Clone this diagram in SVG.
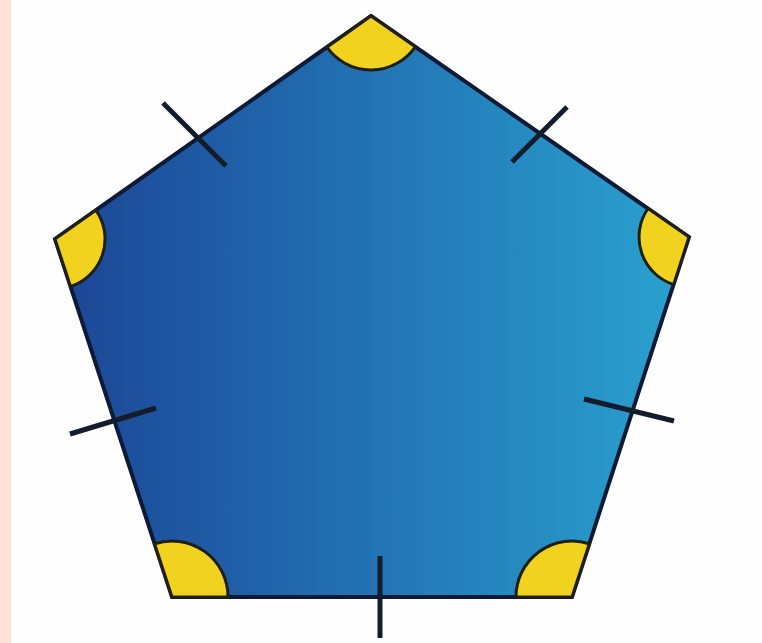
<svg xmlns="http://www.w3.org/2000/svg" width="762" height="643" viewBox="0 0 762 643">
  <defs>
    <linearGradient id="blue" x1="55" y1="0" x2="690" y2="0" gradientUnits="userSpaceOnUse">
      <stop offset="0" stop-color="#1c4595"/>
      <stop offset="0.3" stop-color="#2060a8"/>
      <stop offset="0.6" stop-color="#247db9"/>
      <stop offset="1" stop-color="#2aa3d0"/>
    </linearGradient>
    <style>
      .edge { fill: url(#blue); stroke: #0e1a33; stroke-width: 4; stroke-linejoin: miter; }
      .angle { fill: #f1d21e; stroke: #1f1f12; stroke-width: 3; stroke-linejoin: round; }
      .tick { stroke: #141c2c; stroke-width: 5; stroke-linecap: butt; fill: none; }
    </style>
  </defs>
  <rect x="0" y="0" width="762" height="643" fill="#fefefe"/>
  <rect x="0" y="0" width="11" height="643" fill="#fde3d8"/>
  <g id="pentagon">
    <polygon class="edge" points="371,16 689,237 572,597 172,597 55,239"/>
  </g>
  <g id="angles">
    <path class="angle" d="M371,16 L326.9,47.2 A54,54 0 0 0 415.3,46.8 Z"/>
    <path class="angle" d="M689,237 L673.6,284.6 A50,50 0 0 1 648.0,208.5 Z"/>
    <path class="angle" d="M572,597 L516,597 A56,56 0 0 1 589.3,543.7 Z"/>
    <path class="angle" d="M172,597 L154.6,543.7 A56,56 0 0 1 228,597 Z"/>
    <path class="angle" d="M55,239 L95.85,210.15 A50,50 0 0 1 70.55,286.55 Z"/>
  </g>
  <g id="connectors">
    <line class="tick" x1="163" y1="103" x2="226" y2="166"/>
    <line class="tick" x1="512" y1="162" x2="567" y2="107"/>
    <line class="tick" x1="70" y1="434" x2="156" y2="408"/>
    <line class="tick" x1="584" y1="399" x2="674" y2="421"/>
    <line class="tick" x1="380" y1="556" x2="380" y2="638"/>
  </g>
</svg>
